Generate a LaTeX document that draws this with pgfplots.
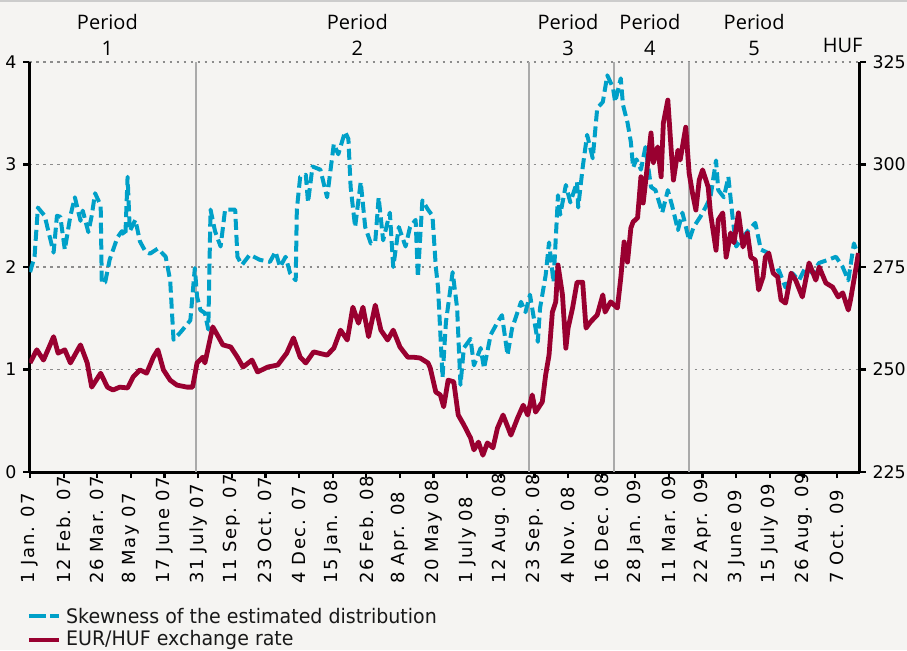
\documentclass[border=0pt]{standalone}
\usepackage{fontspec}
\setmainfont{DejaVu Sans}
\newfontfamily\perfont{Open Sans}
\newfontfamily\legfont[FakeStretch=0.95]{DejaVu Sans}
\newfontfamily\tickfont[LetterSpace=8]{DejaVu Sans}
\usepackage{pgfplots}
\usepackage{pgfplotstable}
\pgfplotsset{compat=1.18}
\definecolor{bgcol}{HTML}{F5F4F2}
\definecolor{skewblue}{HTML}{00A0C8}
\definecolor{hufred}{HTML}{990030}
\definecolor{pergray}{HTML}{AAAAAA}

% x = trading day (30 per tick), y = skewness
\pgfplotstableread{
x y
0 1.95
4 2.1
7 2.58
13 2.5
21 2.14
24 2.5
27 2.49
31 2.17
36 2.5
40 2.68
45 2.45
47 2.55
52 2.34
55 2.5
58 2.72
63 2.6
64 1.84
67 1.85
71 2.07
78 2.29
82 2.35
85 2.3
87 2.88
89 2.35
94 2.46
98 2.25
103 2.15
107 2.13
114 2.18
121 2.1
125 1.87
128 1.29
134 1.36
143 1.48
147 1.99
149 1.71
152 1.58
156 1.55
159 1.39
161 2.56
165 2.35
170 2.2
174 2.56
183 2.56
185 2.1
189 2.02
196 2.12
205 2.07
214 2.05
219 2.15
223 2.0
228 2.1
232 1.94
237 1.87
238 2.56
241 2.88
246 2.9
248 2.63
252 2.98
259 2.95
265 2.68
271 3.2
275 3.1
281 3.32
284 3.25
286 2.78
290 2.39
295 2.83
299 2.39
304 2.23
308 2.25
311 2.68
315 2.26
321 2.53
324 2.0
329 2.39
335 2.2
339 2.39
344 2.46
346 1.9
350 2.65
355 2.56
359 2.5
362 2.0
364 1.8
368 0.92
371 1.46
377 1.95
381 1.6
384 0.85
387 1.21
393 1.3
396 1.04
402 1.21
405 1.01
411 1.34
417 1.46
421 1.53
426 1.14
430 1.4
438 1.66
442 1.56
446 1.73
449 1.53
453 1.27
455 1.6
460 1.92
463 2.24
467 1.85
471 2.7
473 2.51
478 2.8
482 2.63
488 2.83
489 2.58
493 2.97
497 3.29
502 3.06
506 3.55
511 3.61
515 3.87
520 3.75
522 3.61
527 3.84
529 3.58
533 3.41
536 3.22
538 2.97
541 3.05
545 2.95
549 3.17
554 2.78
558 2.75
564 2.53
569 2.75
573 2.59
578 2.36
582 2.53
588 2.26
592 2.39
598 2.49
603 2.59
607 2.68
612 3.04
614 2.75
619 2.68
623 2.88
627 2.46
630 2.2
636 2.29
641 2.36
647 2.43
652 2.17
658 2.14
663 1.94
668 1.97
674 1.8
680 1.94
686 1.87
692 2.0
698 1.94
704 2.04
712 2.07
719 2.1
725 2.0
730 1.87
735 2.23
738 2.14
}\skewdata

% EUR/HUF exchange rate
\pgfplotstableread{
x y
0 251.6
6 254.8
12 252.3
21 258
25 254
31 254.8
36 251.6
45 256
51 251.6
55 245.7
63 249.1
69 245.7
74 245
80 245.7
87 245.5
92 248.2
98 249.9
104 249.1
110 253
114 254.8
119 249.9
125 247.4
131 246.2
140 245.7
145 245.7
149 251.6
154 253
156 251.6
163 260.4
168 258
172 256
179 255.5
185 253
190 250.6
198 252.3
203 249.4
212 250.6
221 251.1
229 254
235 257.7
241 253
246 251.6
253 254.3
265 253.5
271 255.2
277 259.6
283 257.2
288 265.2
293 261.3
297 265.2
302 258
308 265.7
313 259.6
319 257.2
324 259.6
330 255.5
337 253
342 253
348 252.8
355 251.6
357 250.4
362 244.5
366 243.8
369 240.9
373 247.4
378 247
382 238.9
387 236.5
393 233.3
396 230.4
400 232.3
404 229.1
408 232.1
413 230.9
417 235.7
422 238.9
429 234
435 238.2
440 241.3
444 238.9
448 243.8
451 239.6
457 242.1
460 248.7
463 253.5
466 264
469 266.5
471 275.5
475 268.2
478 255.2
480 260.1
484 265
488 271.3
493 271.3
496 260.1
500 261.6
506 263.3
511 268.2
513 264
518 266.5
524 265
527 272.3
530 281.1
533 276.2
536 284.5
538 286
542 287
545 297
547 290.6
554 307.7
556 300.4
560 304.3
563 297
565 310.1
569 315.7
572 303.5
574 296.2
578 303.5
580 301.1
585 309.1
588 297.9
591 293
594 288.9
597 296.2
600 298.7
605 294.5
607 288.2
612 279.1
614 286.5
618 288.2
621 277.4
625 283.3
628 280.9
632 288.2
636 279.9
640 283.3
643 277.4
647 276.7
650 269.4
654 272.6
656 277.4
659 278.4
663 273.5
667 272.6
670 267
674 266.2
679 273.5
683 271.8
689 267.7
695 276
701 271.8
704 275
710 271.1
716 270.1
721 267.7
725 268.7
730 264.5
732 267
737 275
739 278.4
}\hufdata

\begin{document}
\begin{tikzpicture}
\fill[bgcol, use as bounding box] (-14.75pt,-89pt) rectangle (438.75pt,236pt);
\draw[line width=1pt, black!20] (-14.75pt,235.5pt) -- (438.75pt,235.5pt);

\begin{axis}[
  at={(0,0)}, anchor=south west,
  width=415pt, height=205pt, scale only axis,
  xmin=-0.5, xmax=740, ymin=0, ymax=4,
  axis x line*=bottom, axis y line*=left,
  axis line style={-, line width=1.5pt, black},
  xtick={0,30,...,720},
  xticklabels={1 Jan. 07,12 Feb. 07,26 Mar. 07,8 May 07,17 June 07,31 July 07,11 Sep. 07,23 Oct. 07,4 Dec. 07,15 Jan. 08,26 Feb. 08,8 Apr. 08,20 May 08,1 July 08,12 Aug. 08,23 Sep. 08,4 Nov. 08,16 Dec. 08,28 Jan. 09,11 Mar. 09,22 Apr. 09,3 June 09,15 July 09,26 Aug. 09,7 Oct. 09},
  ytick={0,1,2,3,4},
  ymajorgrids,
  major grid style={black!45, line width=0.6pt, dash pattern=on 1.2pt off 2.3pt},
  tick style={black, line width=1.1pt},
  tick align=outside, major tick length=3pt,
  xticklabel shift=53pt,
  x tick label style={rotate=90, anchor=west, inner sep=0pt, font=\tickfont\fontsize{9}{10}\selectfont},
  y tick label style={font=\fontsize{8.7}{10}\selectfont},
  /pgf/number format/assume math mode=true,
  clip mode=individual,
]
\addplot[pergray, line width=1.2pt] coordinates {(148,0) (148,4)};
\addplot[pergray, line width=1.2pt] coordinates {(445,0) (445,4)};
\addplot[pergray, line width=1.2pt] coordinates {(521,0) (521,4)};
\addplot[pergray, line width=1.2pt] coordinates {(588,0) (588,4)};
\addplot[skewblue, line width=2pt, dash pattern=on 5.5pt off 2.5pt, line join=round] table {\skewdata};
\node[align=center, font=\perfont\fontsize{10}{13}\selectfont] at (axis cs:69,4) [yshift=13.5pt] {Period\\1};
\node[align=center, font=\perfont\fontsize{10}{13}\selectfont] at (axis cs:292,4) [yshift=13.5pt] {Period\\2};
\node[align=center, font=\perfont\fontsize{10}{13}\selectfont] at (axis cs:480,4) [yshift=13.5pt] {Period\\3};
\node[align=center, font=\perfont\fontsize{10}{13}\selectfont] at (axis cs:553,4) [yshift=13.5pt] {Period\\4};
\node[align=center, font=\perfont\fontsize{10}{13}\selectfont] at (axis cs:646,4) [yshift=13.5pt] {Period\\5};
\node[font=\perfont\fontsize{10}{13}\selectfont] at (axis cs:725,4) [yshift=8.5pt] {HUF};
\end{axis}

\begin{axis}[
  at={(0,0)}, anchor=south west,
  width=415pt, height=205pt, scale only axis,
  xmin=-0.5, xmax=740, ymin=225, ymax=325,
  axis x line=none, axis y line*=right,
  axis line style={-, line width=1.5pt, black},
  ytick={225,250,...,325},
  tick style={black, line width=1.1pt},
  tick align=outside, major tick length=3pt,
  y tick label style={font=\fontsize{8.7}{10}\selectfont},
  /pgf/number format/assume math mode=true,
]
\addplot[hufred, line width=2.4pt, line join=round] table {\hufdata};
\end{axis}

\draw[skewblue, line width=1.8pt] (-0.25pt,-72pt) -- (8.25pt,-72pt);
\draw[skewblue, line width=1.8pt] (10.25pt,-72pt) -- (14.75pt,-72pt);
\node[anchor=west, font=\legfont\fontsize{10}{12}\selectfont, text=black!90, inner sep=0pt] at (18.1pt,-72pt) {Skewness of the estimated distribution};
\draw[hufred, line width=2.2pt] (-0.25pt,-84pt) -- (14.75pt,-84pt);
\node[anchor=west, font=\legfont\fontsize{10}{12}\selectfont, text=black!90, inner sep=0pt] at (18.1pt,-84pt) {EUR/HUF exchange rate};
\end{tikzpicture}
\end{document}
